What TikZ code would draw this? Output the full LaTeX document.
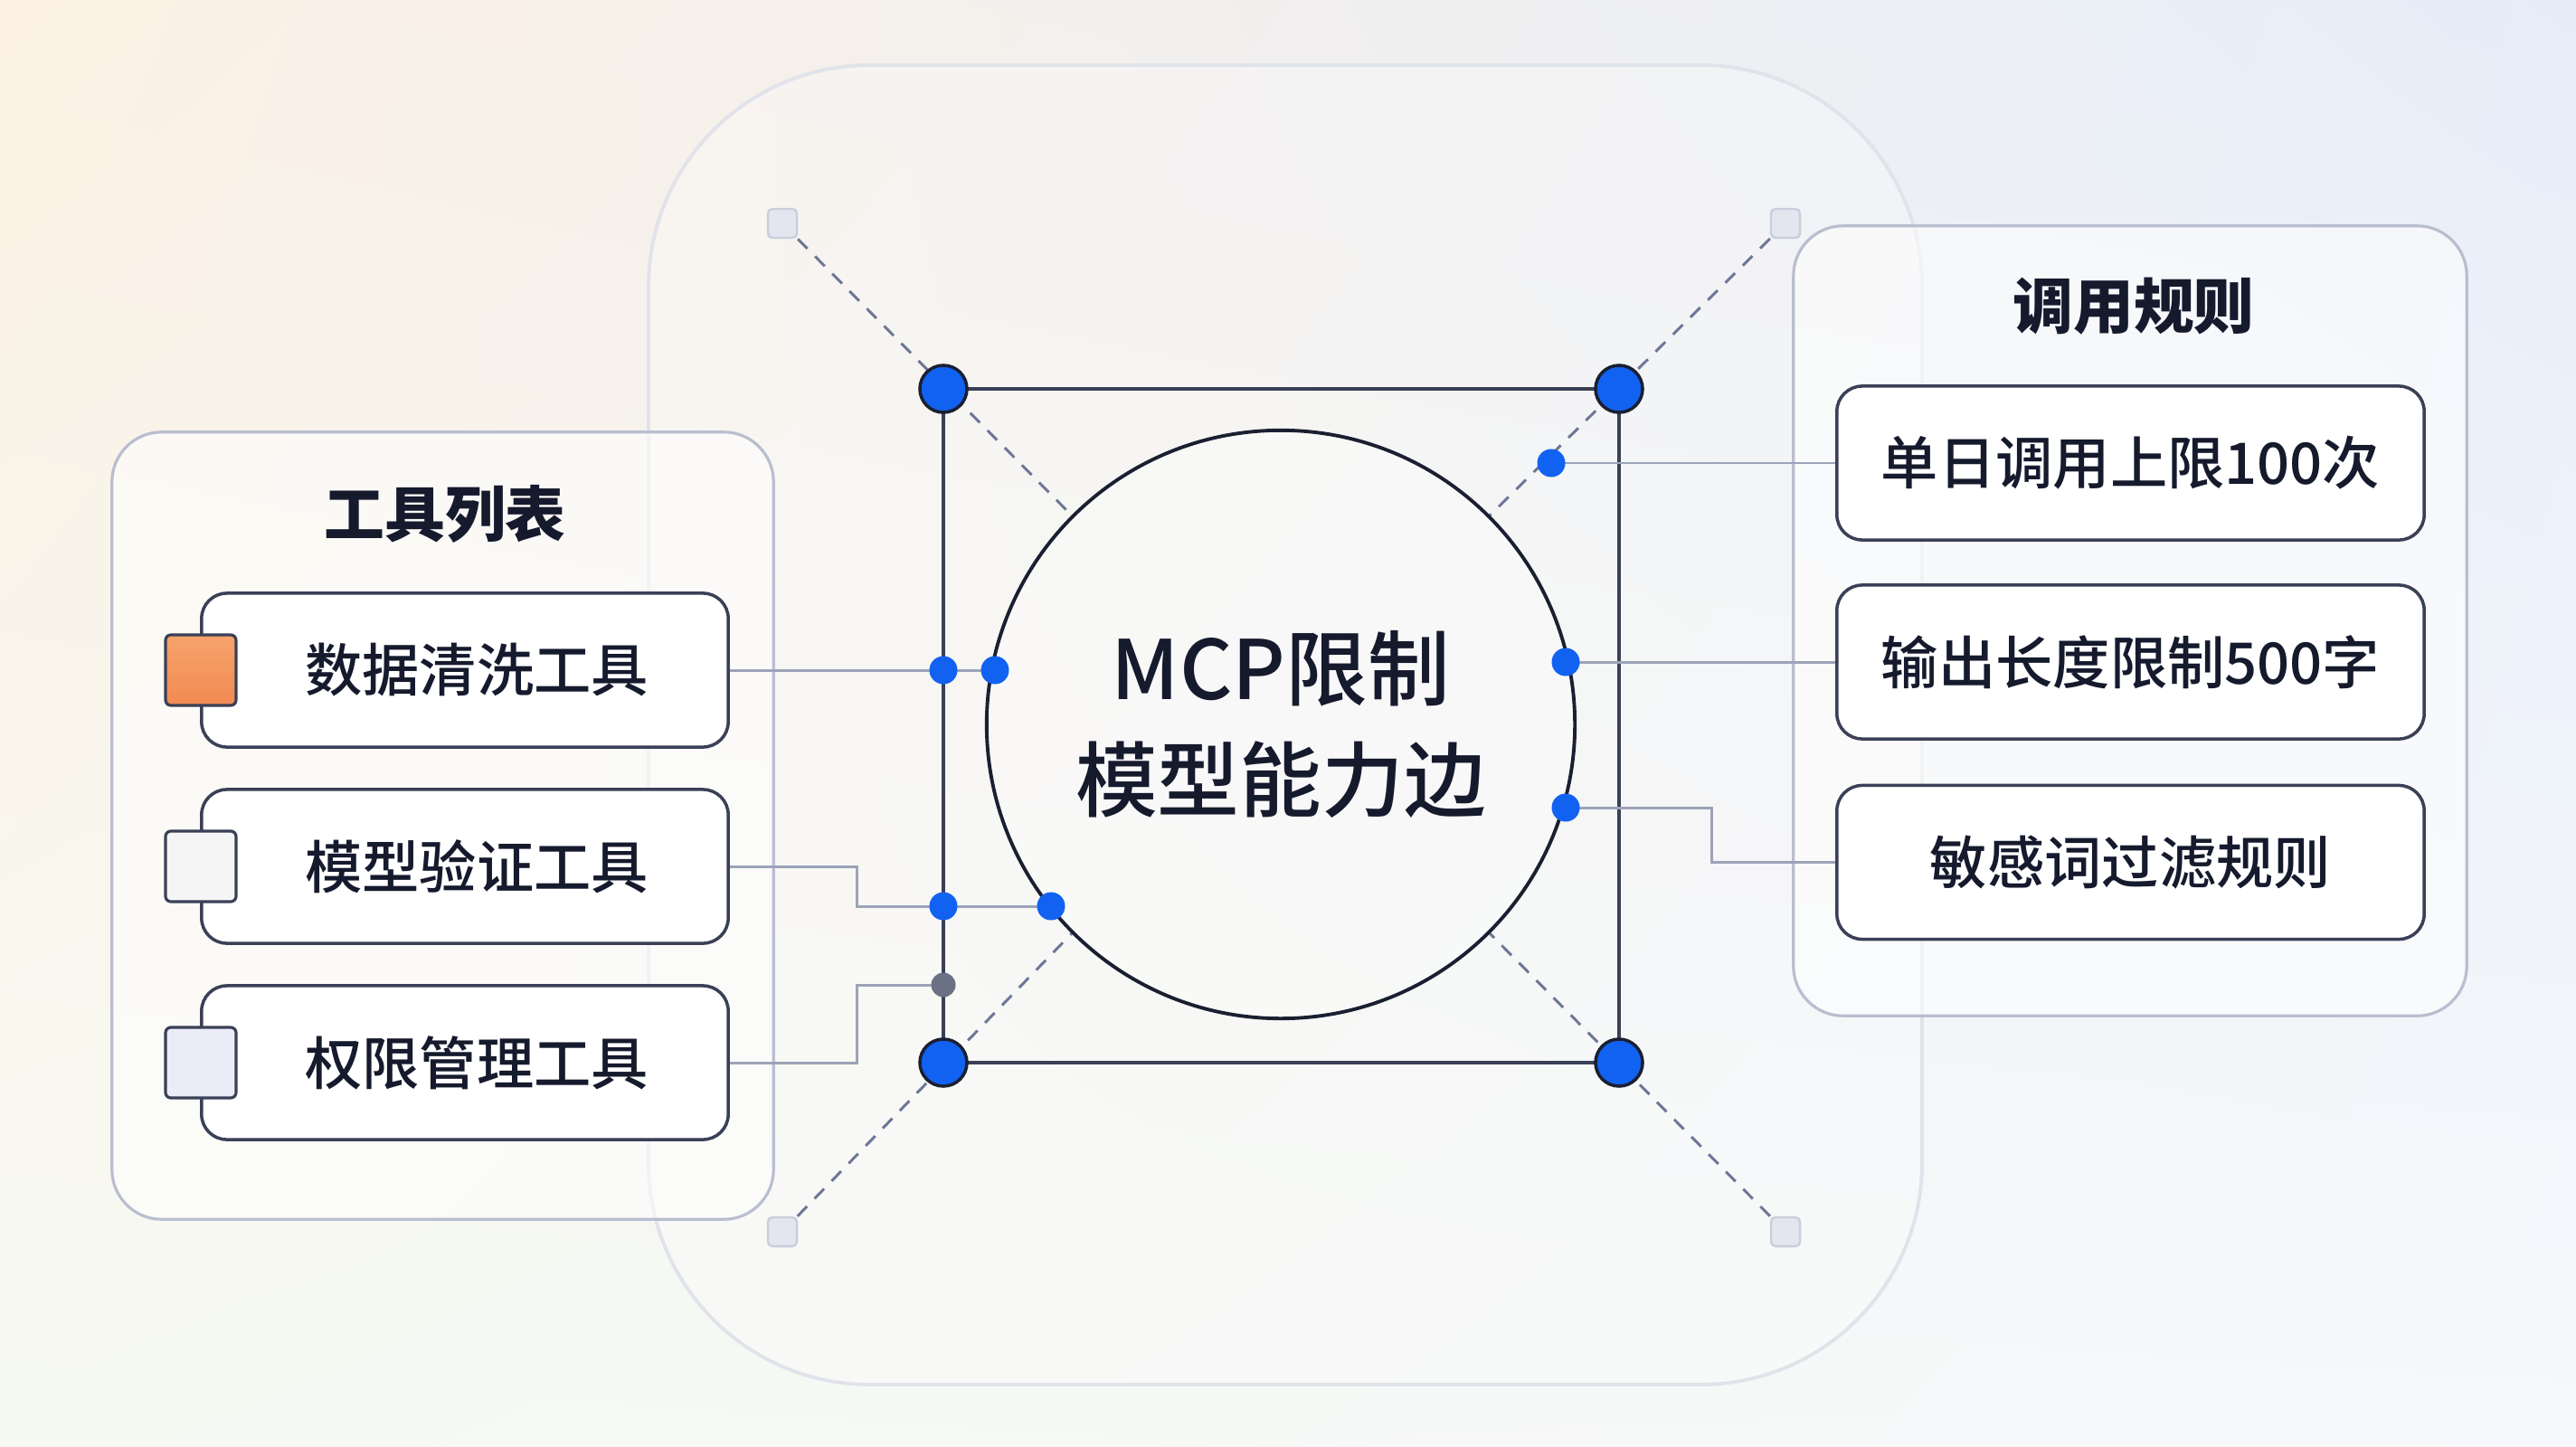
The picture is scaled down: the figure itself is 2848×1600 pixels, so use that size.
\documentclass[tikz,border=0pt]{standalone}
\usepackage{fontspec}
\setmainfont{Noto Sans CJK SC}
\newfontfamily\medfont{Noto Sans CJK SC Medium}
\usetikzlibrary{calc,shadings}
\definecolor{ink}{HTML}{151A2D}
\definecolor{edgecol}{HTML}{3A4056}
\definecolor{conncol}{HTML}{9CA3B8}
\definecolor{panelcol}{HTML}{B9BECF}
\definecolor{dotblue}{HTML}{1262F2}
\definecolor{dotedge}{HTML}{1A1F31}
\definecolor{graydot}{HTML}{6C7084}
\definecolor{dashcol}{HTML}{6E7796}
\definecolor{tickfill}{HTML}{E3E6EE}
\definecolor{tickedge}{HTML}{C9CEDD}
\definecolor{bigedge}{HTML}{E0E3EA}
\definecolor{orangeA}{HTML}{F7A36C}
\definecolor{orangeB}{HTML}{F08A52}
\definecolor{bgTL}{HTML}{FCF1E4}
\definecolor{bgTR}{HTML}{E6EDF9}
\definecolor{bgBL}{HTML}{F6F9F2}
\definecolor{bgBR}{HTML}{F7F8FB}
\pgfdeclarelayer{back}
\pgfdeclarelayer{mid}
\pgfsetlayers{back,mid,main}
\begin{document}
\begin{tikzpicture}[x=0.01cm,y=-0.01cm,
  panel/.style={draw=panelcol,line width=0.9pt,fill=white,fill opacity=0.55,rounded corners=0.55cm,inner sep=0pt},
  itembox/.style={draw=edgecol,line width=1pt,fill=white,rounded corners=0.28cm,inner sep=0pt,minimum height=1.7cm,text=ink,font=\fontsize{18}{22}\medfont},
  titletext/.style={text=ink,font=\fontsize{19}{24}\selectfont\bfseries,inner sep=0pt},
  tagbox/.style={draw=edgecol,line width=0.9pt,rounded corners=0.06cm,minimum size=0.78cm,inner sep=0pt},
  conn/.style={draw=conncol,line width=0.85pt},
  dashline/.style={draw=dashcol,line width=0.85pt,dash pattern=on 4.3pt off 3.4pt},
  tick/.style={draw=tickedge,fill=tickfill,line width=0.7pt,rounded corners=0.05cm,minimum size=0.32cm,inner sep=0pt},
  cdot/.style={circle,draw=dotedge,fill=dotblue,line width=1pt,minimum size=0.52cm,inner sep=0pt},
  bdot/.style={circle,fill=dotblue,minimum size=0.31cm,inner sep=0pt},
  gdot/.style={circle,fill=graydot,minimum size=0.27cm,inner sep=0pt},
  sqline/.style={draw=edgecol,line width=1.1pt}
]
\useasboundingbox (0,0) rectangle (2848,1600);
\begin{pgfonlayer}{back}
  \shade[upper left=bgTL,upper right=bgTR,lower left=bgBL,lower right=bgBR] (0,0) rectangle (2848,1600);
  \draw[draw=bigedge,line width=1.1pt,fill=white,fill opacity=0.25,rounded corners=2.45cm] (717,72) rectangle (2125,1531);
  \node[panel,minimum width=7.31cm,minimum height=8.70cm] (lpanel) at (489.5,913) {};
  \node[panel,minimum width=7.44cm,minimum height=8.73cm] (rpanel) at (2355,686.5) {};
\end{pgfonlayer}

% titles
\node[titletext] (ltitle) at (492,568) {工具列表};
\node[titletext] (rtitle) at (2359,339) {调用规则};

% left items
\node[itembox,minimum width=5.82cm] (L1) at (514,741) {\hspace{0.26cm}数据清洗工具};
\node[itembox,minimum width=5.82cm] (L2) at (514,958) {\hspace{0.26cm}模型验证工具};
\node[itembox,minimum width=5.82cm] (L3) at (514,1175) {\hspace{0.26cm}权限管理工具};
\node[tagbox,top color=orangeA,bottom color=orangeB] (T1) at (222,741) {};
\node[tagbox,fill=white!96!black] (T2) at (222,958) {};
\node[tagbox,fill={rgb,255:red,234;green,236;blue,247}] (T3) at (222,1175) {};

% right items
\node[itembox,minimum width=6.49cm] (R1) at (2355.5,512) {单日调用上限100次};
\node[itembox,minimum width=6.49cm] (R2) at (2355.5,732) {输出长度限制500字};
\node[itembox,minimum width=6.49cm] (R3) at (2355.5,953.5) {敏感词过滤规则};

% center circle
\node[circle,draw=dotedge,line width=1.1pt,fill=white,fill opacity=0.3,text opacity=1,minimum size=6.5cm,inner sep=0pt,text=ink,align=center,font=\fontsize{25.8}{35}\medfont] (circ) at (1416,801) {MCP限制\\模型能力边};

% corner dots
\node[cdot] (cTL) at (1043,430) {};
\node[cdot] (cTR) at (1790,430) {};
\node[cdot] (cBL) at (1043,1175) {};
\node[cdot] (cBR) at (1790,1175) {};

% small ticks
\node[tick] (sTL) at (865,247) {};
\node[tick] (sTR) at (1974,247) {};
\node[tick] (sBL) at (865,1362) {};
\node[tick] (sBR) at (1974,1362) {};

% connector dots
\node[bdot] (dL1a) at (1043,741) {};
\node[bdot] (dL1b) at (1100,741) {};
\node[bdot] (dL2a) at (1043,1002) {};
\node[bdot] (dL2b) at (1162,1002) {};
\node[gdot] (dL3) at (1043,1089) {};
\node[bdot] (dR1) at (1715,512) {};
\node[bdot] (dR2) at (1731,732) {};
\node[bdot] (dR3) at (1731,893) {};

\begin{pgfonlayer}{mid}
  % square
  \draw[sqline] (cTL.center) -- (cTR.center) -- (cBR.center) -- (cBL.center) -- cycle;
  % dashed diagonals
  \draw[dashline] (sTL) -- (circ.135);
  \draw[dashline] (sTR) -- (circ.45);
  \draw[dashline] (sBL) -- (circ.225);
  \draw[dashline] (sBR) -- (circ.315);
  % left connectors
  \draw[conn] (L1.east) -- (dL1a.center) -- (dL1b.center);
  \draw[conn] (L2.east) -- ++(141,0) |- (dL2a.center) -- (dL2b.center);
  \draw[conn] (L3.east) -- ++(141,0) |- (dL3.center);
  % right connectors
  \draw[conn] (R1.west) -- (dR1.center);
  \draw[conn] (R2.west) -- (dR2.center);
  \draw[conn] (R3.west) -- ++(-137,0) |- (dR3.center);
\end{pgfonlayer}
\end{tikzpicture}
\end{document}
